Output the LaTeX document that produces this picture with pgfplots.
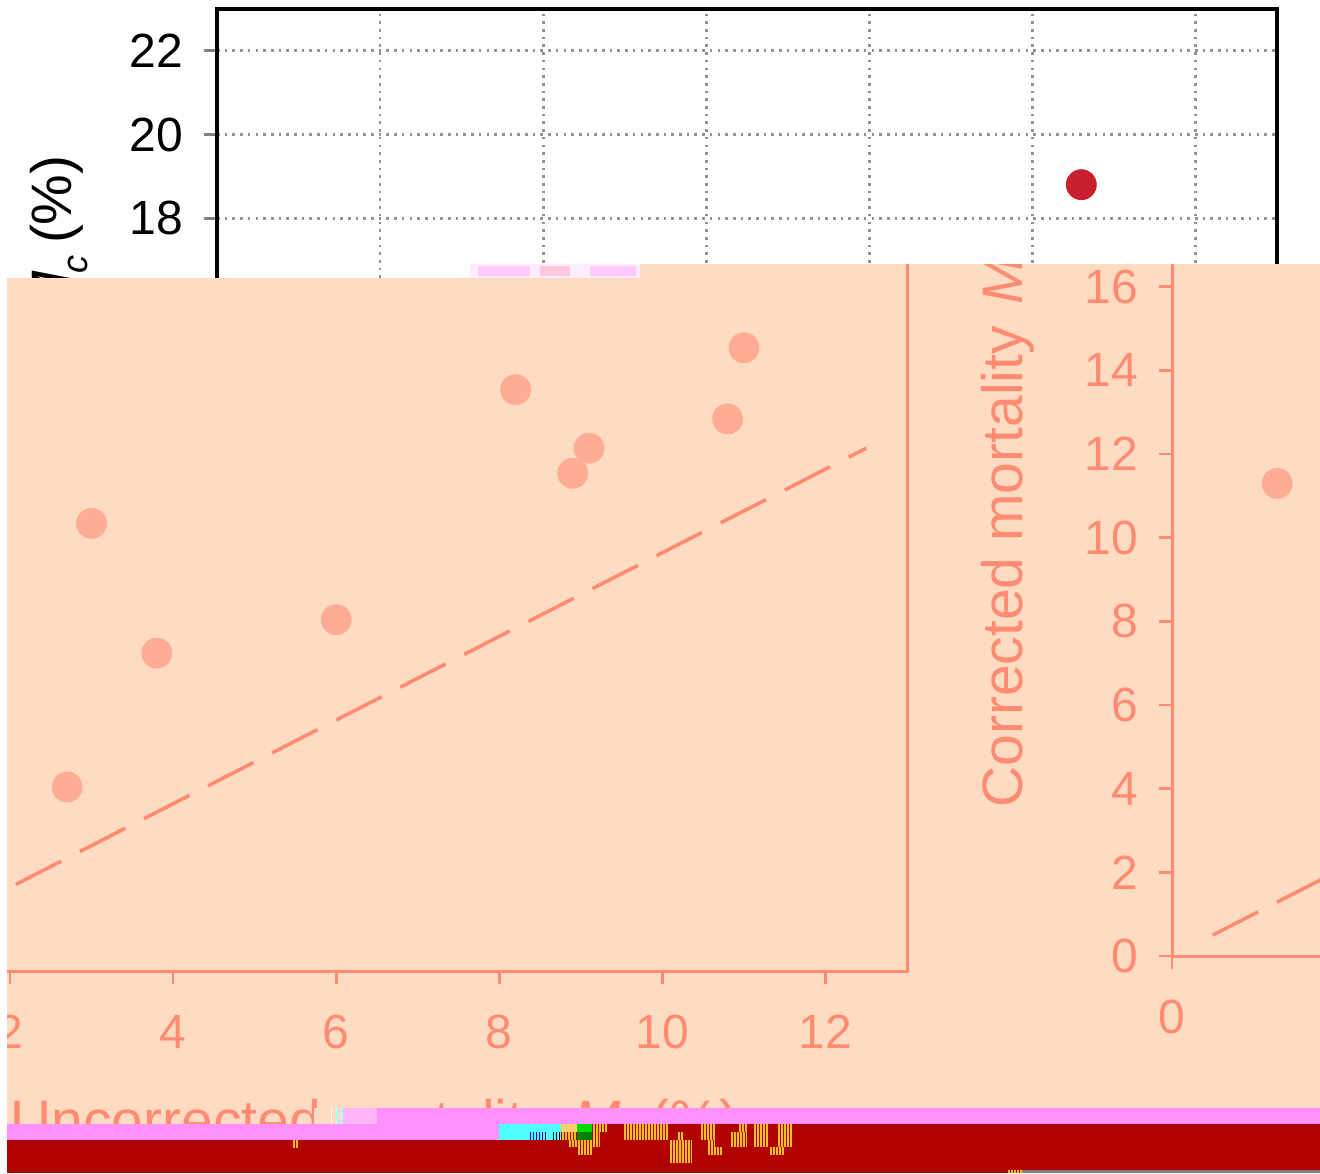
\documentclass[border=0pt]{standalone}
\usepackage{fontspec}
\setmainfont{Liberation Sans}
\usepackage{pgfplots}
\pgfplotsset{compat=1.18}
\definecolor{peach}{RGB}{255,219,193}
\definecolor{salmon}{RGB}{255,139,115}
\definecolor{dotpeach}{RGB}{255,172,150}
\definecolor{dotred}{RGB}{200,32,47}
\definecolor{darkred}{RGB}{176,0,0}
\definecolor{glpink}{RGB}{255,144,255}
\definecolor{glpale}{RGB}{255,180,250}
\definecolor{glcyan}{RGB}{80,255,255}
\definecolor{glyellow}{RGB}{240,190,40}
% everything is laid out in reference pixels, 1px = 0.5pt
\newcommand{\tickfont}{\fontsize{24}{27}\selectfont}
\newcommand{\labfont}{\fontsize{28.5}{32}\selectfont}
\newcommand{\Sub}[1]{\hspace{-1.5pt}\raisebox{-8pt}{\fontsize{18}{20}\selectfont\textit{#1}}\hspace{-2pt}}
\newcommand{\Blk}[5]{\fill[#1] ({#2*0.5pt},{-#3*0.5pt}) rectangle ({#4*0.5pt},{-#5*0.5pt});}
% striped patch
\newcommand{\Stripes}[6]{%
  \Blk{#1}{#3}{#4}{#5}{#6}
  \pgfmathsetmacro\nx{#3+3}
  \foreach \s in {#3,\nx,...,#5} {\fill[#2] ({\s*0.5pt},{-#4*0.5pt}) rectangle ({(\s+1.4)*0.5pt},{-#6*0.5pt});}
}
\newcommand{\Noise}[4]{\Stripes{glyellow}{darkred}{#1}{#2}{#3}{#4}}
\pgfplotsset{
  panel/.style={
    scale only axis,
    width=530pt,
    height=481pt,
    anchor=south west,
    xmin=0, xmax=13,
    ymin=0, ymax=23,
    xtick={0,2,...,12},
    ytick={0,2,...,22},
    tick align=outside,
    axis line style={line width=1.8pt},
    tick style={line width=1.4pt},
    major tick length=6.5pt,
    xtick pos=bottom,
    ytick pos=left,
    tick label style={font=\tickfont},
    /pgf/number format/assume math mode=true,
    xticklabel style={yshift=-12pt},
    yticklabel style={xshift=-7pt},
    clip=false,
  },
  salmonpanel/.style={
    panel,
    axis line style={line width=1.5pt, salmon},
    tick style={line width=1.3pt, salmon},
    tick label style={font=\tickfont, text=salmon},
  },
  diagonal/.style={salmon, line width=1.8pt, dash pattern=on 25.5pt off 10.5pt},
}
\begin{document}
\begin{tikzpicture}
\path[use as bounding box] (0pt,0pt) rectangle (660pt,-586.5pt);
\clip (0pt,0pt) rectangle (660pt,-586.5pt);

% top panel, mostly covered further down
\begin{axis}[panel, at={(108.5pt,-485.5pt)},
    grid=major,
    grid style={gray!85, line width=1.4pt, dash pattern=on 1.3pt off 2.55pt},
]
\addplot[only marks, mark=*, mark size=7.5pt, color=dotred, mark options={draw=none}] coordinates {(10.6,18.8)};
\end{axis}
\node[rotate=90, anchor=base west, font=\labfont, inner sep=0pt] at (35.5pt,-411pt)
    {Corrected mortality\hspace{3pt} \textit{M}\Sub{c} (\%)};

% peach block
\Blk{peach}{7}{278}{1320}{1173}
\Blk{peach}{470}{264}{1320}{278}
% pale damaged strip on its top edge
\Blk{glpale!25!white}{470}{264}{640}{278}
\Blk{glpale!70!white}{478}{266}{530}{276}
\Blk{glpale!45!peach}{540}{266}{570}{276}
\Blk{glpale!70!white}{590}{266}{636}{276}

\begin{scope}
\clip (3.5pt,-132pt) rectangle (660pt,-586.5pt);

% shifted left copy
\begin{axis}[salmonpanel, at={(-76.5pt,-485.5pt)}]
\addplot[only marks, mark=*, mark size=7.5pt, color=dotpeach, mark options={draw=none}] coordinates {
  (2.7,4.4) (3.0,10.7) (3.8,7.6) (6.0,8.4) (8.2,13.9)
  (9.1,12.5) (8.9,11.9) (10.8,13.2) (11.0,14.9)
};
\addplot[diagonal] coordinates {(0.5,0.5) (12.5,12.5)};
\end{axis}

% shifted right copy
\begin{axis}[salmonpanel, at={(586pt,-478pt)}]
\addplot[only marks, mark=*, mark size=7.5pt, color=dotpeach, mark options={draw=none}] coordinates {(1.29,11.3)};
\addplot[diagonal] coordinates {(0.5,0.5) (12.5,12.5)};
\end{axis}
\node[rotate=90, anchor=base west, font=\labfont, text=salmon, inner sep=0pt] at (511pt,-404pt)
    {Corrected mortality\hspace{3pt} \textit{M}\Sub{c} (\%)};
\node[anchor=base west, font=\labfont, text=salmon, inner sep=0pt] at (5pt,-570pt)
    {Uncorrected mortality\hspace{3pt} \textit{M}\Sub{u} (\%)};
\end{scope}

% damaged bands at the bottom
\Blk{peach}{314}{1108}{343}{1124}
\Blk{white}{331}{1108}{332}{1124}
\Blk{glcyan!50!white}{336}{1108}{338}{1124}
\Blk{glcyan!50!white}{341}{1108}{343}{1124}
\Blk{glpale}{343}{1108}{377}{1124}
\Blk{glpink}{377}{1108}{1320}{1124}
\Blk{glpink}{7}{1124}{499}{1140}
\Blk{glcyan}{499}{1124}{561}{1140}
\Blk{glyellow!70!white}{561}{1124}{577}{1132}
\Noise{561}{1132}{577}{1140}
\Blk{green!85!black}{577}{1124}{592}{1132}
\Blk{green!50!black}{577}{1132}{592}{1140}
\Blk{darkred}{592}{1124}{1320}{1140}
\Blk{darkred}{7}{1140}{1320}{1173}
\Stripes{glcyan}{blue!70!black}{530}{1132}{545}{1140}
\Stripes{glcyan}{black}{553}{1132}{560}{1140}
\Noise{292}{1140}{299}{1148}
\Noise{592}{1124}{608}{1132}
\Noise{592}{1132}{600}{1147}
\Noise{568}{1140}{592}{1147}
\Noise{577}{1147}{592}{1155}
\Noise{623}{1124}{668}{1140}
\Noise{677}{1132}{683}{1140}
\Noise{669}{1140}{692}{1163}
\Noise{700}{1124}{715}{1140}
\Noise{707}{1140}{715}{1147}
\Noise{707}{1147}{723}{1155}
\Noise{738}{1124}{747}{1132}
\Noise{730}{1132}{747}{1147}
\Noise{753}{1124}{768}{1147}
\Noise{777}{1124}{792}{1147}
\Noise{769}{1147}{784}{1155}
\Noise{1007}{1170}{1022}{1173}
\Blk{gray}{1022}{1170}{1320}{1173}
\end{tikzpicture}
\end{document}
